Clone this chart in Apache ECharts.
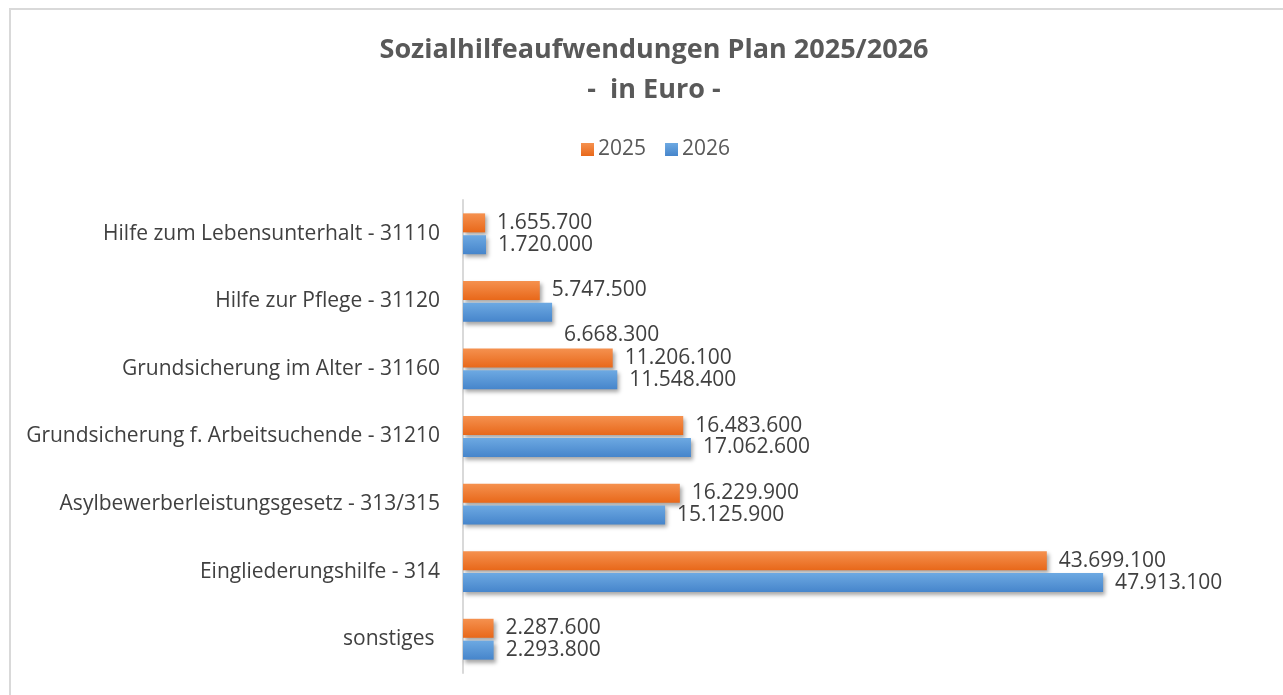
<!DOCTYPE html>
<html>
<head>
<meta charset="utf-8">
<script src="https://cdn.jsdelivr.net/npm/echarts@6/dist/echarts.min.js"></script>
<style>
  html, body { margin: 0; padding: 0; background: #fff; }
  #frame { position: absolute; left: 9px; top: 8px; width: 1290px; height: 700px; border: 2px solid #D9D9D9; box-sizing: border-box; }
  #chart { position: absolute; left: 0; top: 0; width: 1283px; height: 695px; }
</style>
</head>
<body>
<div id="frame"></div>
<div id="chart"></div>
<script>
const categories = [
  'Hilfe zum Lebensunterhalt - 31110',
  'Hilfe zur Pflege - 31120',
  'Grundsicherung im Alter - 31160',
  'Grundsicherung f. Arbeitsuchende - 31210',
  'Asylbewerberleistungsgesetz - 313/315',
  'Eingliederungshilfe - 314',
  'sonstiges '
];
const seriesNames = ['2025', '2026'];
const values2025 = [1655700, 5747500, 11206100, 16483600, 16229900, 43699100, 2287600];
const values2026 = [1720000, 6668300, 11548400, 17062600, 15125900, 47913100, 2293800];

const fmt = v => String(v).replace(/\B(?=(\d{3})+(?!\d))/g, '.');
const FONT = '"Open Sans", "Noto Sans", sans-serif';

const orange = new echarts.graphic.LinearGradient(0, 0, 0, 1, [
  { offset: 0, color: '#F5914F' }, { offset: 1, color: '#E8681A' }
]);
const blue = new echarts.graphic.LinearGradient(0, 0, 0, 1, [
  { offset: 0, color: '#6DA9E2' }, { offset: 1, color: '#4685CB' }
]);

function makeData(vals, seriesIdx) {
  return vals.map((v, i) => {
    const item = { value: v };
    // the 2026 label of "Hilfe zur Pflege" sits lower in the original
    if (seriesIdx === 1 && i === 1) item.label = { offset: [0, 23] };
    return item;
  });
}

const labelStyle = {
  show: true, position: 'right', distance: 12,
  color: '#404040', fontSize: 21, fontFamily: FONT,
  formatter: p => fmt(p.value)
};

const chart = echarts.init(document.getElementById('chart'));
chart.setOption({
  animation: false,
  title: {
    text: 'Sozialhilfeaufwendungen Plan 2025/2026\n-  in Euro -',
    left: 649, top: 25, textAlign: 'center',
    textStyle: { fontFamily: FONT, fontWeight: 'bold', fontSize: 27, color: '#595959', lineHeight: 40 }
  },
  legend: {
    data: seriesNames, top: 134, left: 576, itemGap: 19,
    itemWidth: 13, itemHeight: 13, icon: 'rect',
    textStyle: { fontFamily: FONT, fontSize: 21, color: '#595959', padding: [0, 0, 0, -1] }
  },
  grid: { left: 463, top: 200, width: 668, height: 473 },
  xAxis: { type: 'value', min: 0, max: 50000000, show: false },
  yAxis: {
    type: 'category', data: categories, inverse: true,
    axisLine: { show: true, lineStyle: { color: '#D9D9D9', width: 2 } },
    axisTick: { show: false },
    axisLabel: { margin: 23, color: '#404040', fontSize: 21, fontFamily: FONT }
  },
  series: [
    {
      name: seriesNames[0], type: 'bar', data: makeData(values2025, 0),
      barWidth: 19, barGap: '15%',
      itemStyle: { color: orange, shadowColor: 'rgba(0,0,0,0.35)', shadowBlur: 4, shadowOffsetX: 2, shadowOffsetY: 3 },
      label: labelStyle
    },
    {
      name: seriesNames[1], type: 'bar', data: makeData(values2026, 1),
      barWidth: 19, barGap: '15%',
      itemStyle: { color: blue, shadowColor: 'rgba(0,0,0,0.35)', shadowBlur: 4, shadowOffsetX: 2, shadowOffsetY: 3 },
      label: labelStyle
    }
  ]
});
</script>
</body>
</html>
